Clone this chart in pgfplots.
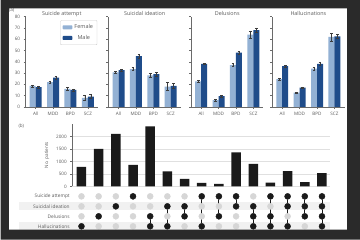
\documentclass[border=0pt]{standalone}
\usepackage{pgfplots}
\pgfplotsset{compat=1.18}
\usepackage{pgfplotstable}
\usepackage{fontspec}
\setmainfont{Open Sans}

\definecolor{fem}{HTML}{93B1D4}
\definecolor{mal}{HTML}{1F4C8A}
\definecolor{bg}{HTML}{2A2A2A}
\definecolor{txt}{HTML}{5A5A5A}
\definecolor{spine}{HTML}{6A6A6A}
\definecolor{errc}{HTML}{3C3C3C}
\definecolor{dotoff}{HTML}{D6D6D6}
\definecolor{doton}{HTML}{1A1A1A}
\definecolor{stripe}{HTML}{F1F1F1}

% panel (a): % of patients with feature, female / male, with error
\pgfplotstableread{
x F Fe M Me
0 18.5 1.0 17.5 0.7
1 22.0 1.0 26.0 1.2
2 16.0 1.0 15.0 1.0
3 8.0 2.5 9.0 1.8
}\attempt
\pgfplotstableread{
x F Fe M Me
0 30.5 1.0 32.5 0.8
1 33.5 1.2 45.0 1.8
2 28.0 1.5 29.0 1.8
3 18.0 3.5 18.5 2.0
}\ideation
\pgfplotstableread{
x F Fe M Me
0 22.5 0.8 38.0 0.5
1 6.0 0.8 9.5 0.8
2 37.0 1.3 48.0 1.5
3 64.0 3.5 68.0 2.0
}\delusions
\pgfplotstableread{
x F Fe M Me
0 24.5 1.0 36.0 0.6
1 12.5 0.8 17.0 0.8
2 34.0 1.3 38.0 1.5
3 62.0 3.5 62.5 2.0
}\halluc

% panel (b): intersection sizes
\pgfplotstableread{
x n
1 780
2 1500
3 2100
4 860
5 2400
6 600
7 300
8 140
9 100
10 1360
11 900
12 150
13 610
14 170
15 530
}\inter

\pgfplotsset{
  panela/.style={
    scale only axis, width=72.5pt, height=90.3pt, anchor=south west,
    xmin=-0.58, xmax=3.58, ymin=0, ymax=80,
    ybar=0pt, bar width=6pt,
    axis x line*=bottom, axis y line*=left,
    axis line style={spine, line width=0.5pt},
    xtick={0,1,2,3}, xticklabels={All,MDD,BPD,SCZ},
    ytick={0,10,...,80},
    tick style={spine, line width=0.4pt}, tick align=outside, major tick length=2pt,
    tick label style={font=\fontsize{4.6}{5}\selectfont, text=txt},
    /pgf/number format/assume math mode=true,
    title style={font=\fontsize{5.4}{6}\selectfont, text=txt, at={(0.5,1)}, anchor=base, yshift=-4.5pt},
    clip=false,
  },
  fbar/.style={fill=fem, draw=none,
    error bars/.cd, y dir=both, y explicit,
    error bar style={line width=0.5pt, errc},
    error mark options={rotate=90, mark size=1.4pt, line width=0.5pt, errc}},
  mbar/.style={fill=mal, draw=none,
    error bars/.cd, y dir=both, y explicit,
    error bar style={line width=0.5pt, errc},
    error mark options={rotate=90, mark size=1.4pt, line width=0.5pt, errc}},
  matrixgeom/.style={
    scale only axis, width=258.3pt, height=40pt, anchor=south west, at={(71.7pt,8.3pt)},
    xmin=0.46, xmax=15.47, ymin=0.5, ymax=4.5, clip=false,
  },
}

\begin{document}
\begin{tikzpicture}
\fill[white] (0pt,0pt) rectangle (360pt,240pt);

\begin{axis}[panela, at={(25pt,133pt)}, title={Suicide attempt},
    ylabel={Percentage of patients w/ feature},
    ylabel style={font=\fontsize{4.6}{5}\selectfont, text=txt},
    legend style={at={(0.99,0.96)}, anchor=north east, draw=black!20,
        font=\fontsize{5.5}{6}\selectfont, text=txt, rounded corners=0.8pt,
        inner sep=2pt, row sep=1pt},
    legend image code/.code={\fill[#1] (0pt,-2pt) rectangle (10pt,2pt);},
]
\addplot[fbar] table[x=x, y=F, y error=Fe] {\attempt};
\addplot[mbar] table[x=x, y=M, y error=Me] {\attempt};
\legend{Female, Male}
\end{axis}

\begin{axis}[panela, at={(108pt,133pt)}, title={Suicidal ideation}, yticklabels={}]
\addplot[fbar] table[x=x, y=F, y error=Fe] {\ideation};
\addplot[mbar] table[x=x, y=M, y error=Me] {\ideation};
\end{axis}

\begin{axis}[panela, at={(190.8pt,133pt)}, title={Delusions}, yticklabels={}]
\addplot[fbar] table[x=x, y=F, y error=Fe] {\delusions};
\addplot[mbar] table[x=x, y=M, y error=Me] {\delusions};
\end{axis}

\begin{axis}[panela, at={(272pt,133pt)}, title={Hallucinations}, yticklabels={}]
\addplot[fbar] table[x=x, y=F, y error=Fe] {\halluc};
\addplot[mbar] table[x=x, y=M, y error=Me] {\halluc};
\end{axis}

% panel (b) bars
\begin{axis}[
    scale only axis, width=258.3pt, height=62.5pt, anchor=south west, at={(71.7pt,53.3pt)},
    xmin=0.46, xmax=15.47, ymin=0, ymax=2500,
    ybar, bar width=9.5pt,
    axis x line=none, axis y line*=left,
    axis line style={spine, line width=0.5pt},
    ytick={0,500,...,2000},
    ymajorgrids, grid style={black!12, line width=0.5pt},
    tick style={spine, line width=0.4pt}, tick align=outside, major tick length=2pt,
    tick label style={font=\fontsize{4.6}{5}\selectfont, text=txt},
    /pgf/number format/assume math mode=true,
    /pgf/number format/set thousands separator={},
    ylabel={No. patients},
    ylabel style={font=\fontsize{4.6}{5}\selectfont, text=txt},
]
\addplot[fill=doton, draw=none] table[x=x, y=n] {\inter};
\end{axis}

% shaded rows behind the matrix
\begin{axis}[matrixgeom, hide axis]
\fill[stripe] (axis cs:-2.66,2.6) rectangle (axis cs:15.47,3.4);
\fill[stripe] (axis cs:-2.66,0.6) rectangle (axis cs:15.47,1.4);
\end{axis}

% panel (b) membership matrix
\begin{axis}[matrixgeom,
    axis line style={draw=none}, xtick=\empty,
    ytick={1,2,3,4},
    yticklabels={Hallucinations, Delusions, Suicidal ideation, Suicide attempt},
    major tick length=0pt,
    tick label style={font=\fontsize{4.8}{5}\selectfont, text=txt},
    yticklabel style={xshift=1pt},
]
\addplot[only marks, mark=*, mark size=3pt, mark options={fill=dotoff, draw=dotoff}] coordinates {
 (1,1)(1,2)(1,3)(1,4) (2,1)(2,2)(2,3)(2,4) (3,1)(3,2)(3,3)(3,4)
 (4,1)(4,2)(4,3)(4,4) (5,1)(5,2)(5,3)(5,4) (6,1)(6,2)(6,3)(6,4)
 (7,1)(7,2)(7,3)(7,4) (8,1)(8,2)(8,3)(8,4) (9,1)(9,2)(9,3)(9,4)
 (10,1)(10,2)(10,3)(10,4) (11,1)(11,2)(11,3)(11,4) (12,1)(12,2)(12,3)(12,4)
 (13,1)(13,2)(13,3)(13,4) (14,1)(14,2)(14,3)(14,4) (15,1)(15,2)(15,3)(15,4)
};
\addplot[doton, line width=0.9pt, unbounded coords=jump] coordinates {
 (5,2)(5,1) (5,nan) (6,3)(6,1) (6,nan) (7,3)(7,2) (7,nan)
 (8,4)(8,1) (8,nan) (9,4)(9,2) (9,nan) (10,4)(10,3) (10,nan)
 (11,3)(11,1) (11,nan) (12,4)(12,1) (12,nan) (13,4)(13,1) (13,nan)
 (14,4)(14,2) (14,nan) (15,4)(15,1)
};
\addplot[only marks, mark=*, mark size=3pt, mark options={fill=doton, draw=doton}] coordinates {
 (1,1) (2,2) (3,3) (4,4)
 (5,2)(5,1) (6,3)(6,1) (7,3)(7,2)
 (8,4)(8,1) (9,4)(9,2) (10,4)(10,3)
 (11,3)(11,2)(11,1) (12,4)(12,2)(12,1) (13,4)(13,3)(13,1)
 (14,4)(14,3)(14,2) (15,4)(15,3)(15,2)(15,1)
};
\end{axis}

\node[font=\fontsize{4.6}{5}\selectfont, text=txt] at (11pt,229.5pt) {(a)};
\node[font=\fontsize{4.6}{5}\selectfont, text=txt] at (20.7pt,113.3pt) {(b)};

% dark frame of the screenshot
\fill[bg, even odd rule] (0pt,0pt) rectangle (360pt,240pt) (8.3pt,10pt) rectangle (347pt,231.7pt);
\end{tikzpicture}
\end{document}
